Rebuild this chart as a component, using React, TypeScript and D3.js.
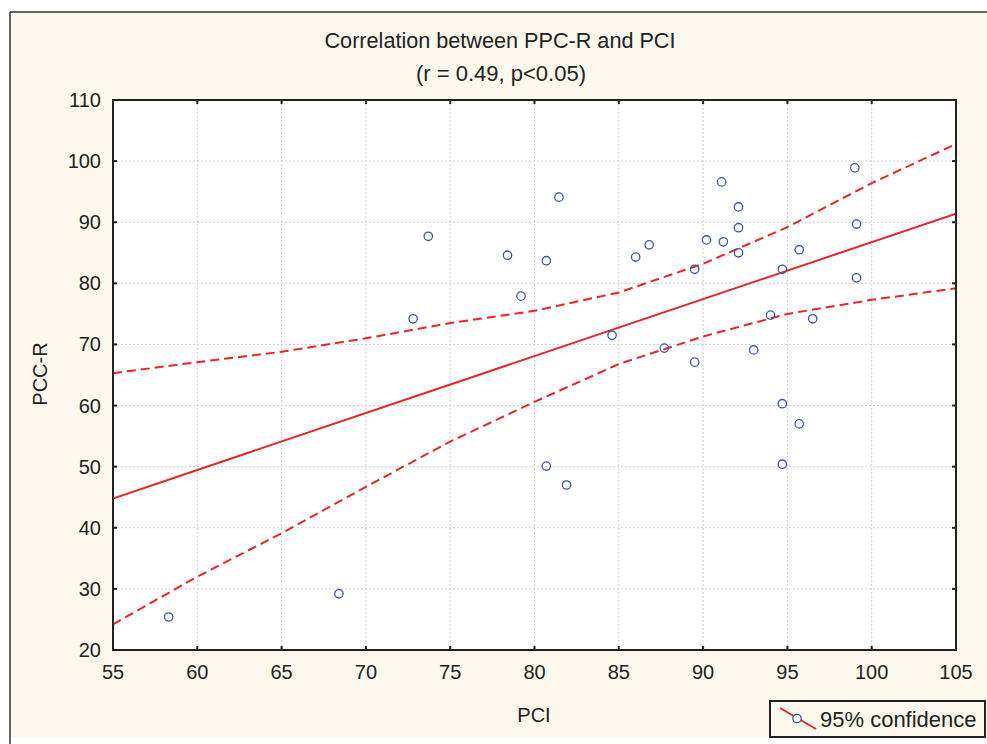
import React from "react";
import * as d3 from "d3";

const pciValues = [58.3, 68.4, 72.8, 73.7, 78.4, 79.2, 80.7, 80.7, 81.45, 81.9, 84.6, 86.0, 86.8, 87.7, 89.5, 89.5, 90.2, 91.1, 91.2, 92.1, 92.1, 92.1, 93.0, 94.0, 94.7, 94.7, 94.7, 95.7, 95.7, 96.5, 99.0, 99.1, 99.1];
const pccValues = [25.4, 29.2, 74.2, 87.7, 84.6, 77.9, 83.7, 50.1, 94.1, 47.0, 71.5, 84.3, 86.3, 69.4, 67.1, 82.3, 87.1, 96.6, 86.8, 92.5, 89.1, 85.0, 69.1, 74.8, 82.3, 60.3, 50.4, 85.5, 57.0, 74.2, 98.9, 89.7, 80.9];

const fitX = [55, 105];
const fitY = [44.8, 91.4];

const bandX = [55, 60, 65, 70, 75, 80, 85, 90, 95, 100, 105];
const upperY = [65.3, 67.1, 68.8, 71.0, 73.5, 75.5, 78.5, 83.2, 89.2, 96.4, 102.8];
const lowerY = [24.2, 32.0, 39.1, 46.7, 54.1, 60.6, 66.8, 71.3, 75.0, 77.3, 79.2];

const xTicks = [55, 60, 65, 70, 75, 80, 85, 90, 95, 100, 105];
const yTicks = [20, 30, 40, 50, 60, 70, 80, 90, 100, 110];

const title = "Correlation between PPC-R and PCI";
const subtitle = "(r = 0.49, p<0.05)";
const xLabel = "PCI";
const yLabel = "PCC-R";
const legendLabel = "95% confidence";

const W = 987;
const H = 744;
const left = 113, right = 956, top = 100, bottom = 650;
const RED = "#e8262a";
const BLUE = "#3b57ad";
const FONT = "Liberation Sans, Arial, sans-serif";

export default function App() {
  const x = d3.scaleLinear().domain([55, 105]).range([left, right]);
  const y = d3.scaleLinear().domain([20, 110]).range([bottom, top]);
  const line = d3
    .line<[number, number]>()
    .x((d) => x(d[0]))
    .y((d) => y(d[1]));
  const fitPts: [number, number][] = fitX.map((v, i) => [v, fitY[i]]);
  const upPts: [number, number][] = bandX.map((v, i) => [v, upperY[i]]);
  const loPts: [number, number][] = bandX.map((v, i) => [v, lowerY[i]]);
  const tl = 4;

  return (
    <div style={{ position: "absolute", left: 0, top: 0 }}>
      <svg width={W} height={H} style={{ display: "block" }} fontFamily={FONT}>
        <rect x={0} y={0} width={W} height={H} fill="#ffffff" />
        <rect x={10} y={12} width={W - 10} height={725} fill="#fdf8ee" />
        <line x1={10} y1={12} x2={W} y2={12} stroke="#333" strokeWidth={1.5} />
        <line x1={10} y1={12} x2={10} y2={H} stroke="#333" strokeWidth={1.5} />

        <text x={500} y={48} textAnchor="middle" fontSize={22} fill="#222" textLength={351} lengthAdjust="spacingAndGlyphs">
          {title}
        </text>
        <text x={501} y={81} textAnchor="middle" fontSize={22} fill="#222" textLength={170} lengthAdjust="spacingAndGlyphs">
          {subtitle}
        </text>

        <rect x={left} y={top} width={right - left} height={bottom - top} fill="#ffffff" />

        {xTicks.slice(1, -1).map((t) => (
          <line key={"gx" + t} x1={x(t)} x2={x(t)} y1={top} y2={bottom} stroke="#cfcfcf" strokeWidth={1} strokeDasharray="2,2" />
        ))}
        {yTicks.slice(1, -1).map((t) => (
          <line key={"gy" + t} x1={left} x2={right} y1={y(t)} y2={y(t)} stroke="#cfcfcf" strokeWidth={1} strokeDasharray="2,2" />
        ))}

        <defs>
          <clipPath id="plotclip">
            <rect x={left} y={top} width={right - left} height={bottom - top} />
          </clipPath>
        </defs>
        <g clipPath="url(#plotclip)">
          <path d={line(upPts) || ""} fill="none" stroke={RED} strokeWidth={2} strokeDasharray="9,5" />
          <path d={line(loPts) || ""} fill="none" stroke={RED} strokeWidth={2} strokeDasharray="9,5" />
          <path d={line(fitPts) || ""} fill="none" stroke={RED} strokeWidth={2} />
        </g>

        {pciValues.map((v, i) => (
          <circle key={"p" + i} cx={x(v)} cy={y(pccValues[i])} r={4.2} fill="none" stroke={BLUE} strokeWidth={1.3} />
        ))}

        <rect x={left} y={top} width={right - left} height={bottom - top} fill="none" stroke="#222" strokeWidth={2} />
        {xTicks.map((t) => (
          <g key={"tx" + t}>
            <line x1={x(t)} x2={x(t)} y1={bottom} y2={bottom - tl} stroke="#222" strokeWidth={2} />
            <line x1={x(t)} x2={x(t)} y1={top} y2={top + tl} stroke="#222" strokeWidth={2} />
            <text x={x(t)} y={679} textAnchor="middle" fontSize={20} fill="#222">
              {t}
            </text>
          </g>
        ))}
        {yTicks.map((t) => (
          <g key={"ty" + t}>
            <line x1={left} x2={left + tl} y1={y(t)} y2={y(t)} stroke="#222" strokeWidth={2} />
            <line x1={right} x2={right - tl} y1={y(t)} y2={y(t)} stroke="#222" strokeWidth={2} />
            <text x={101} y={y(t) + 7} textAnchor="end" fontSize={20} fill="#222">
              {t}
            </text>
          </g>
        ))}

        <text x={534} y={722} textAnchor="middle" fontSize={20} fill="#222">
          {xLabel}
        </text>
        <text transform="translate(47,374) rotate(-90)" textAnchor="middle" fontSize={20} fill="#222">
          {yLabel}
        </text>

        <rect x={770} y={701} width={215} height={36} fill="#fdf8ee" stroke="#222" strokeWidth={2} />
        <line x1={780} y1={708} x2={816} y2={729} stroke={RED} strokeWidth={2} />
        <circle cx={797} cy={718.5} r={4.2} fill="#ffffff" stroke={BLUE} strokeWidth={1.3} />
        <text x={820} y={727} fontSize={22} fill="#222">
          {legendLabel}
        </text>
      </svg>
    </div>
  );
}
